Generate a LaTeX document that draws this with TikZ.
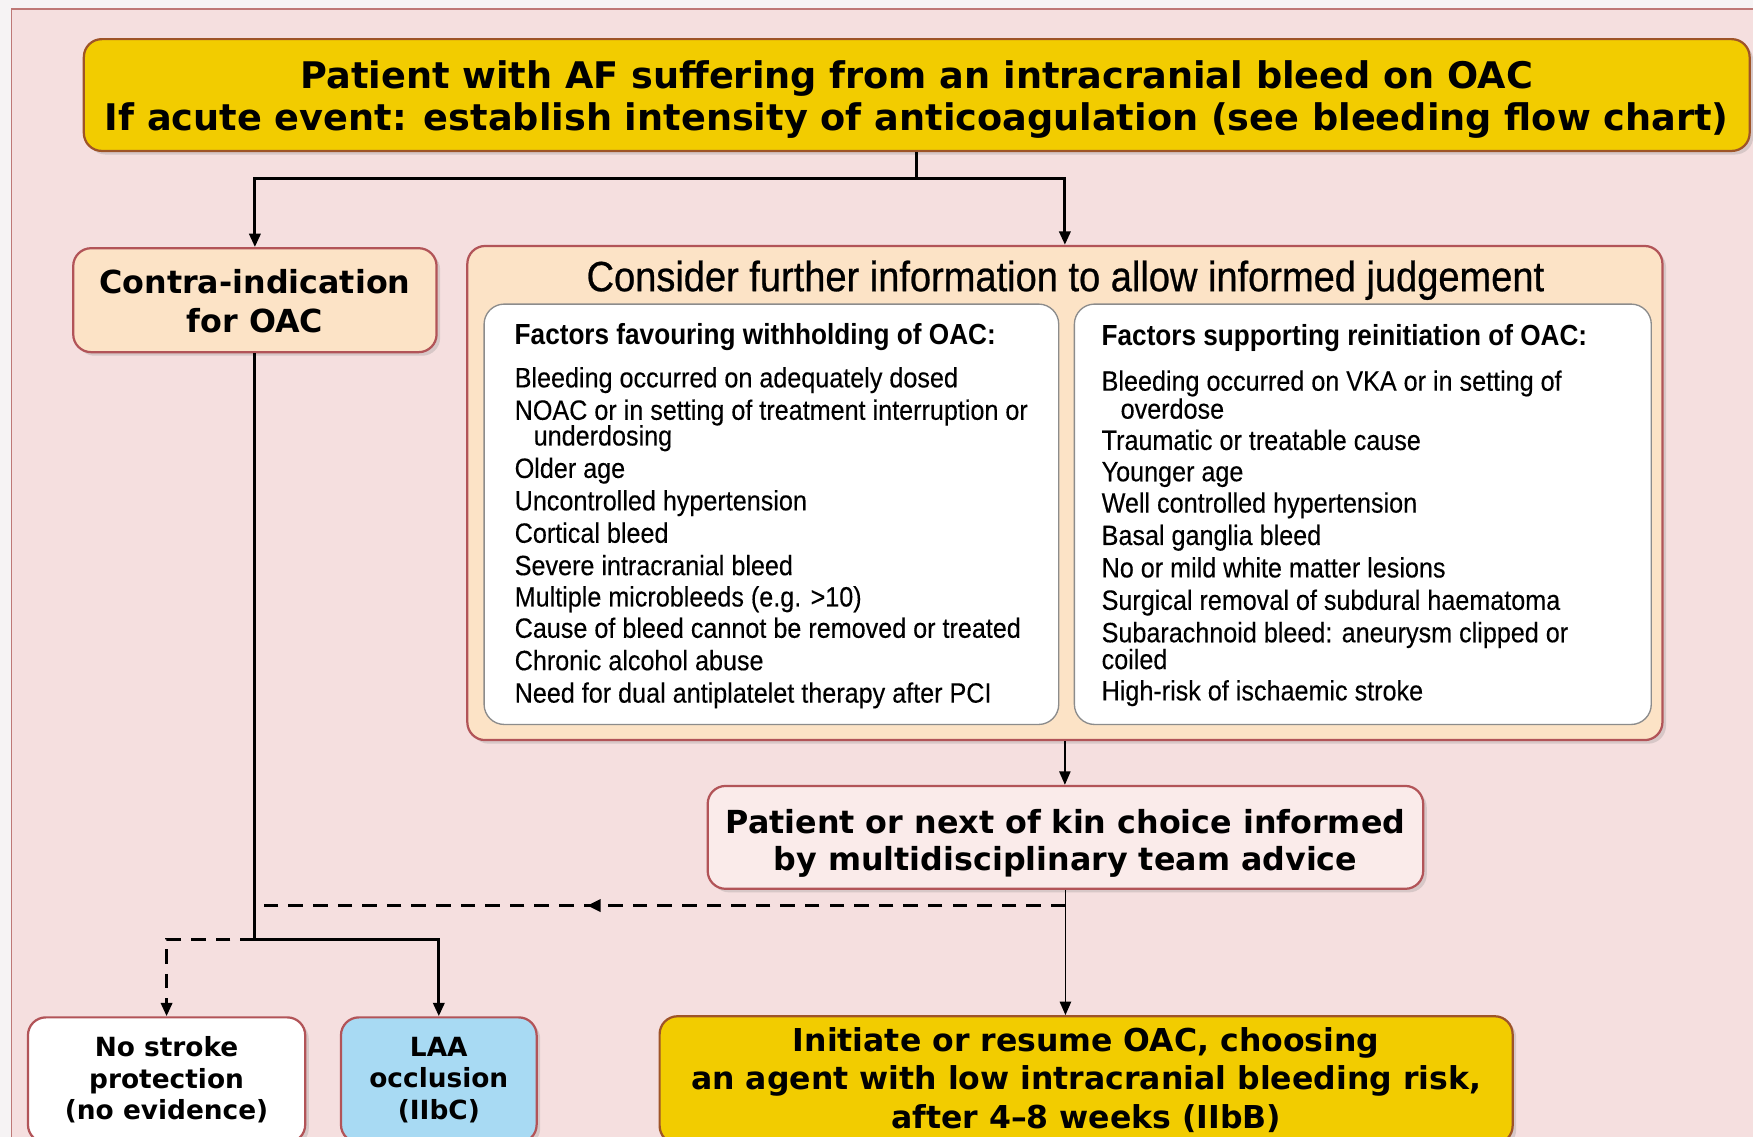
\documentclass[tikz,border=0pt]{standalone}
\usepackage{fontspec}
\setmainfont{DejaVu Sans}
\newfontfamily\narrowfont[FakeStretch=0.9]{Liberation Sans}
\newfontfamily\itemfont[FakeStretch=0.9,FakeBold=0.25]{Liberation Sans}
\newfontfamily\titlefont[FakeStretch=0.9,FakeBold=0.6]{Liberation Sans}
\usetikzlibrary{arrows.meta,shadows,decorations.markings}

\definecolor{pagebg}{RGB}{246,243,244}
\definecolor{panelpink}{RGB}{245,223,223}
\definecolor{panelline}{RGB}{190,120,118}
\definecolor{gold}{RGB}{242,204,0}
\definecolor{goldline}{RGB}{158,84,40}
\definecolor{peach}{RGB}{252,227,198}
\definecolor{roseline}{RGB}{178,84,88}
\definecolor{blush}{RGB}{250,235,234}
\definecolor{skyblue}{RGB}{168,218,243}
\definecolor{greyline}{RGB}{140,140,140}

\begin{document}
\begin{tikzpicture}[x=0.5pt,y=-0.5pt,
  box/.style={rectangle, rounded corners=8pt, line width=1pt, align=center,
    inner sep=0pt, text=black,
    drop shadow={shadow xshift=1.6pt, shadow yshift=-1.6pt, opacity=0.25}},
  goldbox/.style={box, draw=goldline, fill=gold},
  peachbox/.style={box, draw=roseline, fill=peach},
  blushbox/.style={box, draw=roseline, fill=blush},
  whitebox/.style={box, draw=roseline, fill=white},
  bluebox/.style={box, draw=roseline, fill=skyblue},
  listbox/.style={rectangle, rounded corners=9pt, draw=greyline, line width=0.6pt,
    fill=white, inner sep=0pt},
  bigbold/.style={font=\bfseries\fontsize{16.4}{19}\selectfont},
  midbold/.style={font=\bfseries\fontsize{14.2}{17.5}\selectfont},
  smallbold/.style={font=\bfseries\fontsize{11.8}{14}\selectfont},
  listhead/.style={font=\narrowfont\bfseries\fontsize{13}{15}\selectfont, inner sep=0pt, anchor=mid west},
  listitem/.style={font=\itemfont\fontsize{12.5}{14}\selectfont, inner sep=0pt, anchor=mid west},
  link/.style={line width=1.35pt, draw=black},
  thinlink/.style={line width=0.8pt, draw=black},
  dashlink/.style={line width=1.35pt, draw=black, dash pattern=on 6.5pt off 4.5pt},
  arrowhd/.style={-{Triangle[length=6pt,width=5pt]}},
  midleft/.style={postaction={decorate}, decoration={markings,
    mark=at position 0.59 with {\arrow{Triangle[length=6pt,width=5.5pt]}}}}
]
\useasboundingbox (0,0) rectangle (1568,1017);
\clip (0,0) rectangle (1568,1017);

% page and panel
\fill[pagebg] (0,0) rectangle (1568,1017);
\draw[panelline, fill=panelpink, line width=0.6pt] (10,8) rectangle (1590,1040);

% top question (the strut lowers the two lines a little inside the box)
\node[goldbox, bigbold, minimum width=745pt, minimum height=50pt] (top) at (820,85)
  {\rule{0pt}{16.4pt}Patient with AF suffering from an intracranial bleed on OAC\\
   If acute event: establish intensity of anticoagulation (see bleeding flow chart)};

% first split
\node[peachbox, midbold, minimum width=162.5pt, minimum height=46.5pt] (contra) at (228,268.5)
  {\rule{0pt}{12pt}Contra-indication\\for OAC};

\node[peachbox, minimum width=534.5pt, minimum height=221pt] (consider) at (952.5,441) {};
\node[font=\titlefont\fontsize{18.9}{22}\selectfont, inner sep=0pt, anchor=mid] (considertitle)
  at (953,255) {Consider further information to allow informed judgement};

\node[listbox, minimum width=257pt, minimum height=188pt] (against) at (690,460) {};
\node[listbox, minimum width=258pt, minimum height=188pt] (favour) at (1219,460) {};

\node[listhead] (againsthead) at (460,303) {Factors favouring withholding of OAC:};
\foreach \yy/\xx/\txt [count=\k] in {
    341/460/{Bleeding occurred on adequately dosed},
    370/460/{NOAC or in setting of treatment interruption or},
    393/477/{underdosing},
    422/460/{Older age},
    451/460/{Uncontrolled hypertension},
    480/460/{Cortical bleed},
    509/460/{Severe intracranial bleed},
    537/460/{Multiple microbleeds (e.g. >10)},
    565/460/{Cause of bleed cannot be removed or treated},
    594/460/{Chronic alcohol abuse},
    623/460/{Need for dual antiplatelet therapy after PCI}}
  \node[listitem] (againstitem\k) at (\xx,\yy) {\txt};

\node[listhead] (favourhead) at (985,304) {Factors supporting reinitiation of OAC:};
\foreach \yy/\xx/\txt [count=\k] in {
    344/985/{Bleeding occurred on VKA or in setting of},
    369/1002/{overdose},
    397/985/{Traumatic or treatable cause},
    425/985/{Younger age},
    453/985/{Well controlled hypertension},
    482/985/{Basal ganglia bleed},
    511/985/{No or mild white matter lesions},
    540/985/{Surgical removal of subdural haematoma},
    569/985/{Subarachnoid bleed: aneurysm clipped or},
    593/985/{coiled},
    621/985/{High-risk of ischaemic stroke}}
  \node[listitem] (favouritem\k) at (\xx,\yy) {\txt};

% decision (the strut lowers the two lines a little inside the box)
\node[blushbox, midbold, font=\bfseries\fontsize{14.2}{16.5}\selectfont,
  minimum width=320pt, minimum height=46pt] (choice) at (953,749)
  {\rule{0pt}{15.8pt}Patient or next of kin choice informed\\by multidisciplinary team advice};

% outcomes
\node[whitebox, smallbold, minimum width=124pt, minimum height=56pt] (nostroke) at (149,966)
  {No stroke\\protection\\(no evidence)};
\node[bluebox, smallbold, minimum width=87.5pt, minimum height=56pt] (laa) at (392.5,966)
  {LAA\\occlusion\\(IIbC)};
\node[goldbox, font=\bfseries\fontsize{14.1}{17.3}\selectfont,
  minimum width=381.5pt, minimum height=57pt] (resume) at (971.5,966)
  {Initiate or resume OAC, choosing\\
   an agent with low intracranial bleeding risk,\\
   after 4–8 weeks (IIbB)};

% connectors
\coordinate (split) at (820,160);
\coordinate (merge) at (228,810);
\coordinate (choicefoot) at (953,810);
\coordinate (fork) at (228,840);

\draw[link] (top.south) -- (split);
\draw[link, arrowhd] (split) -| (contra.north);
\draw[link, arrowhd] (split) -| (consider.north);

\draw[thinlink, arrowhd] (consider.south) -- (consider.south |- choice.north);
\draw[thinlink, arrowhd] (choice.south) -- (choice.south |- resume.north);
\draw[dashlink, midleft] (choicefoot) -- (merge);

\draw[link] (contra.south) -- (fork);
\draw[link, arrowhd] (fork) -| (laa.north);
\draw[dashlink, arrowhd] (fork) -| (nostroke.north);
\end{tikzpicture}
\end{document}
